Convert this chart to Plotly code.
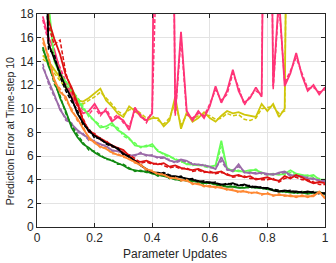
import plotly.graph_objects as go

X = [0.02, 0.04, 0.06, 0.08, 0.10, 0.12, 0.14, 0.16, 0.18, 0.20,
     0.22, 0.24, 0.26, 0.28, 0.30, 0.32, 0.34, 0.36, 0.38, 0.40,
     0.42, 0.44, 0.46, 0.48, 0.50, 0.52, 0.54, 0.56, 0.58, 0.60,
     0.62, 0.64, 0.66, 0.68, 0.70, 0.72, 0.74, 0.76, 0.78, 0.80,
     0.82, 0.84, 0.86, 0.88, 0.90, 0.92, 0.94, 0.96, 0.98, 1.00]

X_TICKS = [0, 0.2, 0.4, 0.6, 0.8, 1]
X_TICK_LABELS = ["0", "0.2", "0.4", "0.6", "0.8", "1"]
Y_TICKS = [0, 2, 4, 6, 8, 10, 12, 14, 16, 18]

X_TITLE = "Parameter Updates"
Y_TITLE = "Prediction Error at Time-step 10"

PINK = [17.8, 16.0, 15.0, 13.2, 12.0, 11.0, 10.3, 9.6, 9.8, 10.4,
        9.6, 9.8, 8.9, 9.3, 9.0, 8.2, 10.1, 9.3, 9.0, 9.6,
        60, 60, 60, 9.6, 16.5, 9.8, 9.0, 9.8, 9.2, 10.2,
        11.9, 10.5, 11.5, 13.3, 11.5, 10.5, 10.9, 11.8, 11.0, 60,
        11.9, 19.5, 11.9, 13.0, 14.7, 12.8, 11.5, 12.0, 11.2, 11.8]
PINK_D = [17.5, 15.6, 14.7, 13.5, 12.3, 11.3, 10.5, 9.9, 9.5, 10.1,
          9.4, 10.0, 9.1, 9.5, 8.8, 8.5, 9.8, 9.5, 8.8, 9.8,
          60, 60, 60, 9.4, 16.0, 9.5, 9.2, 9.6, 9.4, 10.4,
          11.6, 10.7, 11.2, 13.0, 11.8, 10.3, 11.1, 11.5, 11.2, 60,
          11.6, 19.0, 12.2, 13.2, 14.3, 13.0, 11.7, 11.8, 11.4, 11.6]

YELLOW = [14.5, 14.0, 13.3, 12.6, 12.0, 11.3, 10.7, 10.6, 10.9, 11.3,
          11.7, 10.7, 10.2, 9.6, 9.3, 10.2, 9.8, 9.4, 9.0, 9.2,
          9.2, 8.5, 9.0, 11.0, 8.3, 9.7, 8.9, 9.2, 9.7, 9.2,
          8.9, 9.4, 9.8, 9.6, 9.7, 9.5, 9.4, 9.3, 10.4, 9.8,
          10.4, 9.3, 10.0, 60]
YELLOW_D = [14.2, 13.8, 13.0, 12.4, 11.8, 11.1, 10.9, 10.4, 10.7, 11.0,
            11.4, 10.9, 10.4, 9.8, 9.5, 9.9, 10.0, 9.6, 9.2, 9.4,
            9.0, 8.7, 9.2, 10.5, 8.6, 9.5, 9.1, 9.4, 9.5, 9.4,
            9.1, 9.2, 9.6, 9.4, 9.5, 9.1, 9.0, 9.2, 10.0, 10.1,
            10.2, 9.6, 9.8, 60]

RED = [30, 17.5, 15.9, 14.6, 12.8, 11.8, 10.5, 9.0, 8.2, 7.8,
       7.5, 7.2, 6.9, 6.7, 6.5, 6.0, 5.6, 5.5, 5.6, 5.4,
       5.3, 5.4, 5.1, 5.2, 5.0, 4.9, 4.8, 4.9, 4.7, 4.6,
       4.6, 4.7, 4.4, 4.3, 4.4, 4.2, 4.3, 4.0, 4.1, 4.2,
       4.0, 3.9, 4.3, 4.1, 4.4, 4.2, 3.9, 3.7, 3.8, 3.7]
RED_D = [28, 17.0, 15.4, 15.8, 13.0, 11.5, 10.2, 9.2, 8.0, 7.9,
         7.3, 7.3, 6.8, 6.6, 6.3, 6.1, 5.8, 5.4, 5.5, 5.3,
         5.4, 5.2, 5.0, 5.1, 4.9, 5.0, 4.7, 4.8, 4.6, 4.7,
         4.5, 4.6, 4.5, 4.2, 4.3, 4.3, 4.1, 4.1, 4.0, 4.0,
         4.1, 3.8, 4.1, 4.2, 4.2, 4.0, 4.0, 3.8, 3.6, 3.6]

LGREEN = [30, 19.0, 14.0, 12.9, 12.3, 11.7, 10.8, 10.0, 9.5, 8.9,
          8.4, 8.5, 8.8, 8.2, 7.9, 7.5, 6.9, 6.8, 6.8, 7.0,
          6.4, 6.2, 6.0, 5.7, 5.6, 5.3, 5.3, 5.2, 5.2, 5.1,
          5.2, 7.3, 4.9, 4.8, 4.7, 4.7, 4.8, 4.8, 4.6, 4.4,
          4.5, 4.4, 4.5, 4.8, 4.5, 4.4, 4.3, 4.4, 4.0, 4.0]
LGREEN_D = [29, 18.5, 14.3, 13.1, 12.0, 11.5, 11.0, 10.2, 9.3, 9.0,
            8.6, 8.3, 8.6, 8.4, 7.7, 7.4, 7.1, 6.7, 6.9, 6.8,
            6.5, 6.1, 5.9, 5.8, 5.5, 5.4, 5.2, 5.3, 5.1, 5.0,
            5.1, 6.8, 5.0, 4.7, 4.8, 4.6, 4.7, 4.9, 4.5, 4.5,
            4.4, 4.5, 4.4, 4.6, 4.4, 4.3, 4.4, 4.2, 4.1, 3.9]

PURPLE = [13.5, 12.4, 11.2, 9.9, 9.2, 8.7, 8.2, 7.8, 7.5, 7.2,
          7.0, 6.8, 6.5, 6.4, 6.2, 6.0, 6.1, 6.2, 6.1, 6.0,
          5.9, 5.9, 5.6, 5.5, 5.7, 5.6, 5.3, 5.3, 5.2, 5.1,
          4.9, 5.9, 4.9, 4.7, 5.3, 4.6, 4.6, 4.5, 4.6, 4.5,
          4.4, 4.6, 4.7, 4.4, 4.3, 4.3, 4.1, 4.1, 3.9, 3.85]
PURPLE_D = [13.8, 12.1, 11.0, 10.1, 9.0, 8.8, 8.0, 7.9, 7.3, 7.3,
            6.9, 6.9, 6.4, 6.5, 6.1, 6.1, 6.0, 6.3, 6.0, 6.1,
            5.8, 5.8, 5.7, 5.4, 5.6, 5.5, 5.4, 5.2, 5.3, 5.0,
            5.0, 5.6, 4.8, 4.8, 5.1, 4.7, 4.5, 4.6, 4.5, 4.4,
            4.5, 4.5, 4.6, 4.3, 4.4, 4.2, 4.2, 4.0, 4.0, 3.9]

BLACK = [30, 15.5, 14.2, 13.0, 11.8, 10.9, 9.6, 8.8, 8.1, 7.7,
         7.4, 7.1, 6.9, 6.6, 6.2, 5.9, 5.6, 5.2, 4.9, 4.6,
         4.6, 4.5, 4.3, 4.3, 4.2, 4.1, 4.0, 3.9, 3.8, 3.8,
         3.7, 3.6, 3.6, 3.7, 3.5, 3.6, 3.4, 3.4, 3.3, 3.3,
         3.1, 3.0, 3.1, 3.0, 3.0, 2.9, 3.0, 2.9, 2.9, 2.8]
BLACK_D = [29, 15.0, 14.6, 12.7, 11.5, 10.6, 9.9, 8.6, 8.3, 7.5,
           7.5, 7.0, 6.8, 6.7, 6.1, 6.0, 5.5, 5.3, 4.8, 4.7,
           4.5, 4.6, 4.4, 4.2, 4.3, 4.0, 4.1, 3.8, 3.9, 3.7,
           3.8, 3.5, 3.7, 3.6, 3.6, 3.5, 3.5, 3.3, 3.4, 3.2,
           3.2, 3.1, 3.0, 3.1, 2.9, 3.0, 2.9, 3.0, 2.8, 2.9]

DGREEN = [15.2, 13.6, 12.4, 10.9, 9.8, 8.4, 7.6, 7.0, 6.7, 6.3,
          6.0, 5.8, 5.6, 5.4, 5.2, 4.9, 4.8, 4.7, 4.7, 4.5,
          4.4, 4.3, 4.2, 4.0, 4.0, 3.9, 3.9, 3.8, 3.7, 3.7,
          3.6, 3.5, 3.4, 3.4, 3.3, 3.3, 3.4, 3.3, 3.3, 3.2,
          3.1, 3.0, 3.0, 2.9, 2.9, 2.9, 2.8, 2.9, 2.9, 2.8]
DGREEN_D = [15.0, 13.9, 12.1, 11.1, 9.6, 8.6, 7.8, 7.2, 6.5, 6.4,
            6.1, 5.7, 5.7, 5.3, 5.3, 5.0, 4.7, 4.8, 4.6, 4.6,
            4.3, 4.4, 4.1, 4.1, 3.9, 4.0, 3.8, 3.9, 3.6, 3.8,
            3.5, 3.6, 3.4, 3.5, 3.3, 3.4, 3.3, 3.4, 3.2, 3.3,
            3.1, 3.1, 2.9, 3.0, 2.8, 3.0, 2.9, 2.8, 3.0, 2.7]

ORANGE = [16.0, 14.2, 12.5, 11.4, 11.0, 9.8, 9.2, 8.3, 7.6, 7.1,
          6.8, 6.6, 6.3, 6.1, 6.0, 5.7, 5.5, 5.2, 4.9, 4.7,
          4.5, 4.4, 4.2, 4.1, 4.0, 3.9, 3.7, 3.6, 3.5, 3.4,
          3.4, 3.3, 3.2, 3.1, 3.0, 3.0, 2.9, 2.9, 2.8, 2.8,
          2.7, 2.7, 2.7, 2.6, 2.6, 2.6, 2.6, 2.6, 3.0, 2.4]
ORANGE_D = [15.6, 14.5, 12.2, 11.7, 10.7, 10.0, 9.0, 8.5, 7.4, 7.2,
            6.7, 6.7, 6.2, 6.2, 5.9, 5.8, 5.4, 5.3, 4.8, 4.8,
            4.4, 4.5, 4.1, 4.2, 3.9, 4.0, 3.6, 3.7, 3.4, 3.5,
            3.3, 3.4, 3.1, 3.2, 2.9, 3.1, 2.8, 3.0, 2.7, 2.9,
            2.6, 2.8, 2.6, 2.7, 2.5, 2.7, 2.5, 2.7, 2.9, 2.5]

SERIES = [
    ("yellow", YELLOW, YELLOW_D, "#cfc60a"),
    ("pink", PINK, PINK_D, "#ff3377"),
    ("lightgreen", LGREEN, LGREEN_D, "#66ff55"),
    ("purple", PURPLE, PURPLE_D, "#9b6aa8"),
    ("red", RED, RED_D, "#dd1111"),
    ("darkgreen", DGREEN, DGREEN_D, "#118a11"),
    ("black", BLACK, BLACK_D, "#000000"),
    ("orange", ORANGE, ORANGE_D, "#ff8833"),
]

FONT = "Liberation Sans, Arial, sans-serif"

fig = go.Figure()
for name, solid, dashed, color in SERIES:
    fig.add_trace(go.Scatter(x=X[:len(dashed)], y=dashed, mode="lines", name=name + " (dashed)",
                             line=dict(color=color, width=1.5, dash="4px,2px")))
    fig.add_trace(go.Scatter(x=X[:len(solid)], y=solid, mode="lines", name=name,
                             line=dict(color=color, width=1.8)))

axis_common = dict(
    showline=True, linecolor="#262626", linewidth=1, mirror="ticks",
    ticks="inside", ticklen=4, tickcolor="#262626", tickwidth=1,
    showgrid=True, gridcolor="#e3e3e3", gridwidth=1, zeroline=False,
    tickfont=dict(family=FONT, size=12, color="#262626"),
)

fig.update_layout(
    width=336, height=263,
    margin=dict(l=37, r=9, t=7, b=36),
    paper_bgcolor="white", plot_bgcolor="white",
    showlegend=False,
    font=dict(family=FONT, color="#262626"),
    xaxis=dict(range=[0, 1], tickvals=X_TICKS, ticktext=X_TICK_LABELS, **axis_common),
    yaxis=dict(range=[0, 18], tickvals=Y_TICKS, **axis_common),
    annotations=[
        dict(text=X_TITLE, xref="paper", yref="paper", x=0.479, y=-0.127,
             xanchor="center", yanchor="middle", showarrow=False,
             font=dict(family=FONT, size=12, color="#262626")),
        dict(text=Y_TITLE, xref="paper", yref="paper", x=-0.093, y=0.45,
             xanchor="center", yanchor="middle", showarrow=False, textangle=-90,
             font=dict(family=FONT, size=10.5, color="#262626")),
    ],
)

fig.write_html("out.html", config={"displayModeBar": False},
               post_script="document.body.style.margin='0';document.body.style.overflow='hidden';")
